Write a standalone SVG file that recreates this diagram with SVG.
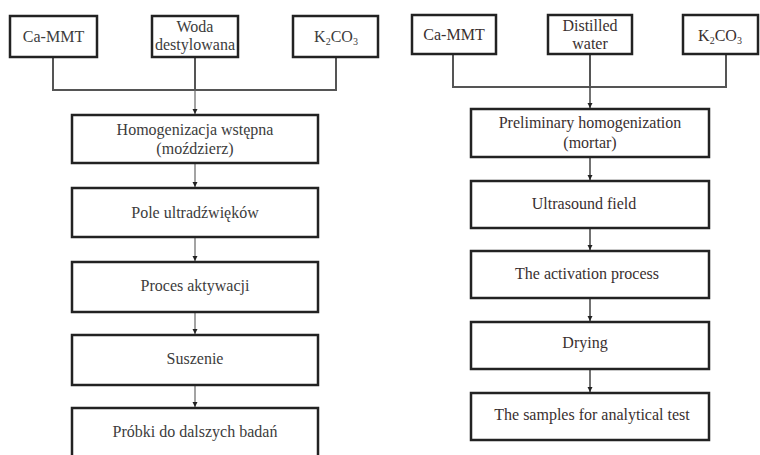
<svg xmlns="http://www.w3.org/2000/svg" width="760" height="455" viewBox="0 0 760 455">
<style>
.box{fill:#fff;stroke:#222;stroke-width:2.5}
.t{font-family:'Liberation Serif','Times New Roman',Tinos,'DejaVu Serif',serif;font-size:16px;fill:#3c3c3c;text-anchor:middle}
.tr{font-family:'Liberation Serif','Times New Roman',Tinos,'DejaVu Serif',serif;font-size:16px;fill:#3a3030;text-anchor:middle}
.c{fill:none;stroke:#555;stroke-width:2}
.a{fill:none;stroke:#666;stroke-width:1.2}
.ar{fill:none;stroke:#444;stroke-width:1.5}
</style>
<defs>
<marker id="ah" markerWidth="6" markerHeight="6" refX="5" refY="3" orient="auto" markerUnits="userSpaceOnUse">
<path d="M0,0.5 L5,3 L0,5.5 Z" fill="#222"/>
</marker>
</defs>
<rect width="760" height="455" fill="#fff"/>
<g id="connectors">
<path class="c" d="M53,57 V90 H336 V57 M195,57 V90"/>
<path class="a" d="M195,90 V114" marker-end="url(#ah)"/>
<path class="a" d="M195,163 V187" marker-end="url(#ah)"/>
<path class="a" d="M195,237 V261" marker-end="url(#ah)"/>
<path class="a" d="M195,312 V334" marker-end="url(#ah)"/>
<path class="a" d="M195,385 V407" marker-end="url(#ah)"/>
<path class="c" d="M453,54 V87 H726 V54 M590,54 V87"/>
<path class="ar" d="M590,87 V108" marker-end="url(#ah)"/>
<path class="ar" d="M590,157 V180" marker-end="url(#ah)"/>
<path class="ar" d="M590,228 V250" marker-end="url(#ah)"/>
<path class="ar" d="M590,298 V321" marker-end="url(#ah)"/>
<path class="ar" d="M590,369 V392" marker-end="url(#ah)"/>
</g>
<g id="l-camt"><rect class="box" x="10" y="16" width="87" height="41"/><text class="t" x="53.5" y="42">Ca-MMT</text></g>
<g id="l-woda"><rect class="box" x="152" y="16" width="86" height="41"/><text class="t" x="195" y="32">Woda</text><text class="t" x="195" y="50">destylowana</text></g>
<g id="l-k2co3"><rect class="box" x="293" y="16" width="85" height="41"/><text class="t" x="336" y="42">K<tspan font-size="10" dy="3">2</tspan><tspan dy="-3">CO</tspan><tspan font-size="10" dy="3">3</tspan></text></g>
<g id="l-homog"><rect class="box" x="72" y="115" width="246" height="48"/><text class="t" x="195" y="135">Homogenizacja wstępna</text><text class="t" x="195" y="154">(moździerz)</text></g>
<g id="l-pole"><rect class="box" x="72" y="188" width="246" height="49"/><text class="t" x="195" y="218">Pole ultradźwięków</text></g>
<g id="l-proces"><rect class="box" x="72" y="262" width="246" height="50"/><text class="t" x="195" y="291">Proces aktywacji</text></g>
<g id="l-suszenie"><rect class="box" x="72" y="335" width="246" height="50"/><text class="t" x="195" y="364">Suszenie</text></g>
<g id="l-probki"><rect class="box" x="72" y="408" width="246" height="60"/><text class="t" x="195" y="437">Próbki do dalszych badań</text></g>
<g id="r-camt"><rect class="box" x="412" y="15" width="84" height="39"/><text class="tr" x="454" y="40">Ca-MMT</text></g>
<g id="r-water"><rect class="box" x="548" y="15" width="84" height="39"/><text class="tr" x="590" y="31">Distilled</text><text class="tr" x="590" y="49">water</text></g>
<g id="r-k2co3"><rect class="box" x="683" y="15" width="75" height="39"/><text class="tr" x="720" y="41">K<tspan font-size="10" dy="3">2</tspan><tspan dy="-3">CO</tspan><tspan font-size="10" dy="3">3</tspan></text></g>
<g id="r-prelim"><rect class="box" x="471" y="109" width="238" height="48"/><text class="tr" x="590" y="128">Preliminary homogenization</text><text class="tr" x="590" y="148">(mortar)</text></g>
<g id="r-ultra"><rect class="box" x="471" y="181" width="238" height="47"/><text class="tr" x="584" y="209">Ultrasound field</text></g>
<g id="r-activ"><rect class="box" x="471" y="251" width="238" height="47"/><text class="tr" x="587" y="279">The activation process</text></g>
<g id="r-drying"><rect class="box" x="471" y="322" width="238" height="47"/><text class="tr" x="585" y="348">Drying</text></g>
<g id="r-samples"><rect class="box" x="471" y="393" width="238" height="47"/><text class="tr" x="592" y="420">The samples for analytical test</text></g>
</svg>
